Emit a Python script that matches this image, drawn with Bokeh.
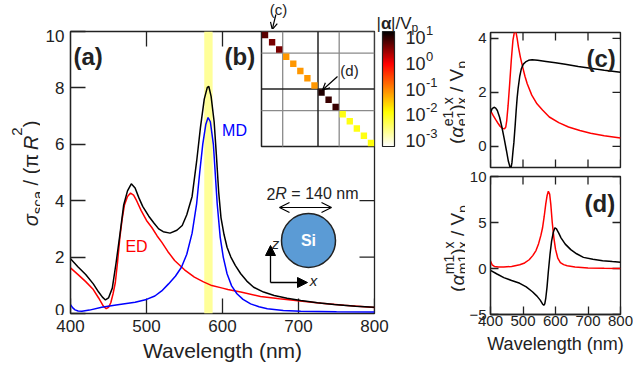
import numpy as np
from bokeh.plotting import figure
from bokeh.layouts import row, column
from bokeh.models import (Range1d, FixedTicker, Label, Arrow, OpenHead, NormalHead,
                          LinearColorMapper, BoxAnnotation, ColumnDataSource)
from bokeh.embed import file_html
from bokeh.resources import INLINE

FONT = "Liberation Sans"
INK = "#222222"

# ---------------- data: panel (a) scattering cross sections ----------------
wl_total = [400, 410, 420, 430, 437, 442, 446, 450, 455, 460, 465, 470, 475, 480, 485, 490,
            495, 503, 510, 516, 522, 531, 540, 547, 553, 560, 566, 571, 576, 580, 582, 585,
            589, 592, 595, 598, 602, 606, 611, 617, 624, 632, 641, 654, 668, 685, 703, 725,
            747, 775, 800]
sca_total = [1.94, 1.65, 1.38, 1.05, 0.76, 0.58, 0.48, 0.55, 0.9, 1.8, 2.8, 3.85, 4.35, 4.6, 4.45, 4.1,
             3.8, 3.45, 3.2, 3.0, 2.9, 2.85, 2.95, 3.12, 3.5, 4.15, 5.4, 6.6, 7.6, 8.02, 8.05, 7.7,
             6.8, 5.6, 4.3, 3.4, 2.8, 2.35, 2.0, 1.7, 1.41, 1.15, 0.93, 0.76, 0.64, 0.54, 0.46, 0.38,
             0.32, 0.26, 0.22]
wl_md = [400, 403, 406, 410, 415, 425, 441, 460, 485, 500, 511, 520, 529, 538, 546, 553, 560,
         566, 570, 574, 578, 581, 584, 588, 593, 597, 601, 606, 612, 619, 627, 637, 648, 659,
         680, 703, 750, 800]
sca_md = [0.31, 0.2, 0.13, 0.09, 0.08, 0.12, 0.22, 0.3, 0.4, 0.5, 0.62, 0.8, 1.05, 1.32, 1.64, 2.1, 2.85,
          3.9, 5.0, 6.0, 6.7, 6.95, 6.8, 6.0, 3.9, 2.7, 2.0, 1.41, 0.98, 0.70, 0.5, 0.34, 0.24, 0.17,
          0.11, 0.08, 0.06, 0.05]
wl_ed = [400, 410, 420, 430, 437, 443, 447, 450, 453, 456, 459, 462, 465, 468, 471, 475, 479, 483,
         487, 493, 500, 507, 514, 520, 528, 537, 550, 563, 575, 586, 600, 607, 624, 650, 675, 702,
         730, 760, 800]
sca_ed = [1.62, 1.38, 1.13, 0.85, 0.55, 0.27, 0.17, 0.22, 0.38, 0.7, 1.1, 1.85, 2.7, 3.35, 3.85, 4.15,
          4.27, 4.2, 4.0, 3.65, 3.3, 3.05, 2.75, 2.53, 2.2, 1.88, 1.55, 1.29, 1.12, 0.99, 0.9, 0.85,
          0.76, 0.6, 0.52, 0.44, 0.36, 0.29, 0.21]
band_lo, band_hi = 576, 587

# ---------------- data: panel (c) electric dipole polarizability ----------------
wl_c_re = [400, 405, 411, 416, 421, 428, 435, 442, 449, 455, 460, 463, 466, 469, 472, 476, 479,
           482, 485, 490, 495, 501, 508, 517, 528, 545, 571, 600, 630, 670, 708, 750, 800]
c_re = [1.25, 1.4, 1.45, 1.42, 1.33, 1.08, 0.72, 0.3, -0.15, -0.55, -0.76, -0.8, -0.6, -0.2, 0.15,
        0.8, 1.33, 1.8, 2.15, 2.6, 2.88, 3.05, 3.13, 3.19, 3.21, 3.19, 3.15, 3.1, 3.04, 2.96, 2.9,
        2.82, 2.75]
wl_c_im = [400, 408, 416, 423, 430, 437, 443, 447, 450, 454, 459, 464, 469, 473, 476, 479, 482,
           486, 492, 499, 506, 513, 527, 543, 560, 581, 610, 640, 675, 708, 750, 800]
c_im = [1.33, 1.15, 0.99, 0.86, 0.74, 0.67, 0.65, 0.72, 0.96, 1.5, 2.32, 3.2, 3.93, 4.2, 4.3, 4.2,
        4.0, 3.68, 3.3, 2.94, 2.6, 2.32, 1.9, 1.58, 1.35, 1.09, 0.88, 0.72, 0.59, 0.49, 0.4, 0.31]

# ---------------- data: panel (d) magnetic dipole polarizability ----------------
wl_d_re = [400, 420, 441, 465, 490, 510, 529, 543, 553, 560, 564, 567, 570, 574, 578, 583, 588,
           593, 598, 603, 610, 617, 630, 647, 665, 686, 715, 745, 775, 800]
d_re = [-0.2, -0.6, -0.99, -1.3, -1.61, -2.0, -2.53, -3.0, -3.44, -3.85, -4.0, -3.85, -3.26, -2.0,
        -0.33, 1.5, 2.97, 3.9, 4.43, 4.3, 3.85, 3.33, 2.65, 2.05, 1.6, 1.21, 1.0, 0.85, 0.75, 0.69]
wl_d_im = [400, 405, 412, 425, 441, 465, 490, 505, 519, 530, 540, 548, 555, 560, 565, 570, 574,
           578, 582, 585.5, 590, 595, 600, 607, 615, 625, 636, 660, 700, 750, 800]
d_im = [0.8, 0.4, 0.22, 0.17, 0.15, 0.22, 0.4, 0.6, 0.95, 1.4, 1.95, 2.7, 3.6, 4.4, 5.6, 7.0, 7.9,
        8.39, 8.1, 7.0, 5.0, 3.33, 2.1, 1.13, 0.65, 0.42, 0.3, 0.16, 0.06, 0.02, 0.0]

# ---------------- data: panel (b) polarizability matrix (diagonal, log10 |alpha|/Vp) -------
diag_log10 = [0.81, 0.65, 0.65, -1.14, -1.14, -1.14, -1.14, -1.14,
              1.09, 0.96, 0.96, -2.0, -2.0, -2.0, -2.0, -1.95]
n_modes = 16
block_gray = [3, 11]
block_black = [8]
cb_ticks = [1, 0, -1, -2, -3]
cb_low, cb_high = -3.25, 1.25

x_ticks = [400, 500, 600, 700, 800]
a_yticks = [0, 2, 4, 6, 8, 10]
a_top_ticks = [500, 600]
a_right_ticks = [2, 4]
c_yticks = [0, 2, 4]
d_yticks = [-5, 0, 5, 10]

# ---------------- helpers ----------------
CW = {c: .556 for c in "0123456789abdeghnopqu"}
CW.update({'c': .5, 's': .5, 'x': .5, 'z': .5, 'v': .5, 'y': .5, 'k': .5, 'm': .833, 'w': .722,
           'i': .222, 'l': .222, 'j': .222, 'f': .278, 't': .278, 'r': .333,
           'R': .722, 'V': .667, 'S': .667, 'E': .667, 'D': .722, 'M': .833, 'W': .944,
           '(': .333, ')': .333, '/': .278, ' ': .278, '=': .584, '|': .26, '-': .333,
           'σ': .6, 'π': .6, 'α': .6})


def tw(s, size):
    return sum(CW.get(ch, .556) for ch in s) * size


def lab(p, x, y, text, size, color=INK, style="normal", align="left", baseline="alphabetic",
        angle=0.0, xr="px", yr="py", y_offset=0):
    p.add_layout(Label(x=x, y=y, x_range_name=xr, y_range_name=yr, text=text, angle=angle,
                       text_font=FONT, text_font_size=f"{size}px", text_font_style=style,
                       text_color=color, text_align=align, text_baseline=baseline,
                       y_offset=y_offset))


def vlabel(p, xb, yc, groups, color=INK):
    """Rotated (bottom-to-top) label assembled from pieces with sub/superscripts."""
    total = sum(max(tw(t, s) for t, s, _, _ in g) for g in groups)
    y = yc + total / 2
    for g in groups:
        for t, s, sh, st in g:
            lead = len(t) - len(t.lstrip(" "))
            lab(p, xb + sh, y - tw(" " * lead, s), t.strip(" "), s, color=color, style=st,
                angle=np.pi / 2)
        y -= max(tw(t, s) for t, s, _, _ in g)


def hlabel(p, x, yb, pieces, align="left", color=INK):
    total = sum(tw(t, s) for t, s, _, _ in pieces)
    if align == "center":
        x -= total / 2
    for t, s, sh, st in pieces:
        lead = len(t) - len(t.lstrip(" "))
        lab(p, x + tw(" " * lead, s), yb + sh, t.strip(" "), s, color=color, style=st)
        x += tw(t, s)


def palette_hot_r(n=256):
    stops = [(0.0, (255, 255, 255)), (0.3, (255, 255, 0)), (0.72, (255, 0, 0)), (1.0, (0, 0, 0))]
    pal = []
    for i in range(n):
        t = i / (n - 1)
        for (t0, c0), (t1, c1) in zip(stops[:-1], stops[1:]):
            if t0 <= t <= t1:
                f = (t - t0) / (t1 - t0)
                c = tuple(int(round(a + (b - a) * f)) for a, b in zip(c0, c1))
                break
        pal.append("#%02x%02x%02x" % c)
    return pal


cmap = LinearColorMapper(palette=palette_hot_r(), low=cb_low, high=cb_high)


def blank(x0, x1, y0, y1):
    """A figure whose frame is the whole canvas, with ranges in page pixels."""
    p = figure(width=x1 - x0, height=y1 - y0, x_range=Range1d(x0, x1), y_range=Range1d(y1, y0),
               min_border=0, min_border_left=0, min_border_right=0, min_border_top=0,
               min_border_bottom=0, toolbar_location=None, output_backend="svg",
               x_axis_location=None, y_axis_location=None)
    p.extra_x_ranges = {"px": Range1d(x0, x1)}
    p.extra_y_ranges = {"py": Range1d(y1, y0)}
    p.grid.visible = False
    p.outline_line_color = None
    p.background_fill_color = "white"
    p.border_fill_color = "white"
    return p


def style(p, tick_len, xlab_px, ylab_px, xstand, ystand):
    p.grid.visible = False
    p.outline_line_color = INK
    p.outline_line_width = 1.3
    p.background_fill_color = "white"
    p.border_fill_color = "white"
    for ax in list(p.below) + list(p.left):
        ax.major_tick_in = tick_len
        ax.major_tick_out = 0
        ax.minor_tick_line_color = None
        ax.axis_line_color = INK
        ax.axis_line_width = 1.3
        ax.major_tick_line_color = INK
        ax.major_tick_line_width = 1.3
        ax.major_label_text_font = FONT
        ax.major_label_text_color = INK
        ax.axis_label_text_font = FONT
        ax.axis_label_text_font_style = "normal"
        ax.axis_label_text_color = INK
    if p.below:
        p.below[0].major_label_text_font_size = f"{xlab_px}px"
        p.below[0].major_label_standoff = xstand
    if p.left:
        p.left[0].major_label_text_font_size = f"{ylab_px}px"
        p.left[0].major_label_standoff = ystand


def side_ticks(p, length, top=None, right=None, bottom=None):
    kw = dict(length=length, length_units="screen", line_color=INK, line_width=1.3)
    if top:
        ticks, y0 = top
        p.ray(x=ticks, y=[y0] * len(ticks), angle=-np.pi / 2, **kw)
    if right:
        ticks, x0 = right
        p.ray(x=[x0] * len(ticks), y=ticks, angle=np.pi, **kw)
    if bottom:
        ticks, y0 = bottom
        p.ray(x=ticks, y=[y0] * len(ticks), angle=np.pi / 2, **kw)


TOTAL_H = 363

# ---------------- panel (a) ----------------
A_L, A_R, A_T, A_B = 70, 374, 31, 313          # frame edges on the page
M_L, M_R, M_T, M_B = 261, 374, 31, 146         # inset matrix edges
cw = (M_R - M_L) / n_modes
ch = (M_B - M_T) / n_modes

p_a = figure(frame_width=A_R - A_L, frame_height=A_B - A_T, x_range=Range1d(400, 800),
             y_range=Range1d(0, 10), min_border_left=30, min_border_right=2, min_border_top=2,
             min_border_bottom=2, toolbar_location=None, output_backend="svg",
             x_axis_location=None)
p_a.extra_x_ranges = {"px": Range1d(A_L, A_R), "mx": Range1d(-(M_L - A_L) / cw, n_modes)}
p_a.extra_y_ranges = {"py": Range1d(A_B, A_T), "my": Range1d((A_B - A_T) / ch, 0)}
p_a.yaxis.ticker = FixedTicker(ticks=a_yticks)
style(p_a, 15, 17, 17, 6, 6)
side_ticks(p_a, 15, top=(a_top_ticks, 10), right=(a_right_ticks, 800), bottom=(x_ticks, 0))

p_a.add_layout(BoxAnnotation(left=band_lo, right=band_hi, fill_color="#ffff99", fill_alpha=1.0,
                             line_color=None, level="underlay"))
p_a.line(wl_ed, sca_ed, line_color="#ff0000", line_width=1.5)
p_a.line(wl_md, sca_md, line_color="#0000ff", line_width=1.5)
p_a.line(wl_total, sca_total, line_color="#000000", line_width=1.5)

# inset (b)
p_a.quad(left=0, right=n_modes, top=0, bottom=n_modes, x_range_name="mx", y_range_name="my",
         fill_color="white", line_color=INK, line_width=1.5)
for edges, col, lw in ((block_gray, "#8a8a8a", 1.3), (block_black, INK, 1.5)):
    p_a.segment(x0=edges, y0=[0] * len(edges), x1=edges, y1=[n_modes] * len(edges),
                x_range_name="mx", y_range_name="my", line_color=col, line_width=lw)
    p_a.segment(x0=[0] * len(edges), y0=edges, x1=[n_modes] * len(edges), y1=edges,
                x_range_name="mx", y_range_name="my", line_color=col, line_width=lw)
idx = np.arange(n_modes) + 0.5
src = ColumnDataSource(dict(x=idx, y=idx, v=diag_log10))
p_a.rect(x="x", y="y", width=0.9, height=0.9, source=src, x_range_name="mx", y_range_name="my",
         fill_color={"field": "v", "transform": cmap}, line_color=None)

lab(p_a, 349, 70, "(d)", 15, align="center")
p_a.add_layout(Arrow(x_start=337, y_start=76, x_end=322, y_end=89.5, x_range_name="px",
                     y_range_name="py", line_color="black", line_width=1.2,
                     end=OpenHead(size=7, line_width=1.2, line_color="black")))

# sphere sketch
hlabel(p_a, 312, 193, [("2", 16, 0, "normal"), ("R", 16, 0, "italic"), (" = 140 nm", 16, 0, "normal")],
       align="center")
p_a.add_layout(Arrow(x_start=279, y_start=207, x_end=331, y_end=207, x_range_name="px",
                     y_range_name="py", line_color="black", line_width=1.2,
                     start=OpenHead(size=10, line_width=1.2, line_color="black"),
                     end=OpenHead(size=10, line_width=1.2, line_color="black")))
p_a.scatter(x=[308], y=[240], size=54, marker="circle", fill_color="#5b9bd5", line_color=INK,
            line_width=1.5, x_range_name="px", y_range_name="py")
lab(p_a, 308, 240, "Si", 16, color="white", style="bold", align="center", baseline="middle")
p_a.add_layout(Arrow(x_start=270, y_start=282, x_end=270, y_end=245, x_range_name="px",
                     y_range_name="py", line_color="black", line_width=1.3,
                     end=NormalHead(size=10, fill_color="black", line_color="black")))
p_a.add_layout(Arrow(x_start=270, y_start=282, x_end=307, y_end=282, x_range_name="px",
                     y_range_name="py", line_color="black", line_width=1.3,
                     end=NormalHead(size=10, fill_color="black", line_color="black")))
lab(p_a, 275, 243, "z", 15, style="italic", align="center")
lab(p_a, 313, 280, "x", 15, style="italic", align="center")

lab(p_a, 234, 130, "MD", 16, color="#0000ff", align="center", baseline="middle")
lab(p_a, 136, 246, "ED", 16, color="#ff0000", align="center", baseline="middle")
lab(p_a, 73, 56, "(a)", 24, style="bold")
lab(p_a, 224, 56, "(b)", 24, style="bold")

# x axis of (a), in its own strip so that the last tick label has room
AX_H = TOTAL_H - 29 - (A_B - A_T + 4)
p_ax_a = figure(frame_width=A_R - A_L, frame_height=1, x_range=p_a.x_range, y_range=Range1d(0, 1),
                min_border_left=30, min_border_right=92, min_border_top=0,
                min_border_bottom=AX_H - 1, toolbar_location=None, output_backend="svg",
                y_axis_location=None)
p_ax_a.xaxis.ticker = FixedTicker(ticks=x_ticks)
p_ax_a.xaxis.axis_label = "Wavelength (nm)"
style(p_ax_a, 0, 17, 17, 3, 0)
p_ax_a.outline_line_color = None
p_ax_a.xaxis.axis_line_color = None
p_ax_a.xaxis.major_tick_line_color = None
p_ax_a.xaxis.axis_label_text_font_size = "21px"
p_ax_a.xaxis.axis_label_standoff = 4

# strip above (a): pointer to element (c)
p_strip = blank(40, 376, 0, 29)
lab(p_strip, 270, 0, "(c)", 15, align="center", baseline="top")
p_strip.add_layout(Arrow(x_start=267, y_start=14, x_end=263, y_end=29, x_range_name="px",
                         y_range_name="py", line_color="black", line_width=1.2,
                         end=OpenHead(size=7, line_width=1.2, line_color="black")))

# y label of (a)
p_yla = blank(0, 40, 0, TOTAL_H)
vlabel(p_yla, 30.5, 173, [[("σ", 20, 0, "italic")], [("sca", 15, 6, "normal")],
                          [(" / (", 20, 0, "normal")], [("π ", 20, 0, "normal")],
                          [("R", 20, 0, "italic")], [("2", 15, -14, "normal")],
                          [(")", 20, 0, "normal")]])

# ---------------- middle strip: colour bar and y labels of (c), (d) ----------------
MID_L, MID_R, MID_B = 376, 465, 315
BAR_L, BAR_R, BAR_T, BAR_B = 382, 394, 31, 146
ppd = (BAR_B - BAR_T) / (cb_high - cb_low)
p_mid = blank(MID_L, MID_R, 0, MID_B)
p_mid.extra_y_ranges["val"] = Range1d(cb_high - (MID_B - BAR_T) / ppd, cb_high + BAR_T / ppd)
grad = np.linspace(cb_low, cb_high, 256).reshape(-1, 1)
p_mid.image(image=[grad], x=BAR_L, y=cb_low, dw=BAR_R - BAR_L, dh=cb_high - cb_low,
            color_mapper=cmap, y_range_name="val")
p_mid.quad(left=BAR_L, right=BAR_R, top=BAR_T, bottom=BAR_B, fill_color=None, line_color=INK,
           line_width=1.2)
for k in cb_ticks:
    lab(p_mid, 405, k, "10", 18, baseline="middle", yr="val")
    lab(p_mid, 405 + tw("10", 18) + 0.5, k, str(k), 13, baseline="middle", yr="val", y_offset=7)
hlabel(p_mid, 376, 23, [("|", 17, 0, "normal"), ("α", 17, 0, "bold"), ("|/V", 17, 0, "normal"),
                        ("p", 12, 4, "normal")])
vlabel(p_mid, 456, 102, [[("(", 19, 0, "normal")], [("α", 19, 0, "italic")],
                         [("e1", 14, -9, "normal"), ("e1", 14, 5, "normal")],
                         [(")", 19, 0, "normal")],
                         [("x", 14, -9, "normal"), ("x", 14, 5, "normal")],
                         [(" / V", 19, 0, "normal")], [("p", 14, 5, "normal")]])
vlabel(p_mid, 457, 248, [[("(", 19, 0, "normal")], [("α", 19, 0, "italic")],
                         [("m1", 14, -9, "normal"), ("m1", 14, 5, "normal")],
                         [(")", 19, 0, "normal")],
                         [("x", 14, -9, "normal"), ("x", 14, 5, "normal")],
                         [(" / V", 19, 0, "normal")], [("p", 14, 5, "normal")]])

# ---------------- panels (c) and (d) ----------------
RIGHT_EDGE = 629
P_L, P_R = 486, 616
C_T, C_B = 32, 167
D_T, D_B = 176, 314

p_c = figure(frame_width=P_R - P_L, frame_height=C_B - C_T, x_range=Range1d(400, 800),
             y_range=Range1d(-0.78, 4.22), min_border_left=P_L - MID_R,
             min_border_right=RIGHT_EDGE - P_R, min_border_top=C_T, min_border_bottom=4,
             toolbar_location=None, output_backend="svg", x_axis_location=None)
p_c.extra_x_ranges = {"px": Range1d(P_L, P_R)}
p_c.extra_y_ranges = {"py": Range1d(C_B, C_T)}
p_c.yaxis.ticker = FixedTicker(ticks=c_yticks)
style(p_c, 8, 0, 15, 0, 4)
side_ticks(p_c, 8, top=(x_ticks, 4.22), right=(c_yticks, 800), bottom=(x_ticks, -0.78))
p_c.line(wl_c_im, c_im, line_color="#ff0000", line_width=1.5)
p_c.line(wl_c_re, c_re, line_color="#000000", line_width=1.5)
lab(p_c, P_R - 34, 58, "(c)", 24, style="bold")

p_d = figure(frame_width=P_R - P_L, frame_height=D_B - D_T, x_range=Range1d(400, 800),
             y_range=Range1d(-5, 10), min_border_left=P_L - MID_R,
             min_border_right=RIGHT_EDGE - P_R, min_border_top=D_T - (C_B + 4),
             min_border_bottom=TOTAL_H - D_B, toolbar_location=None, output_backend="svg")
p_d.extra_x_ranges = {"px": Range1d(P_L, P_R)}
p_d.extra_y_ranges = {"py": Range1d(D_B, D_T)}
p_d.xaxis.ticker = FixedTicker(ticks=x_ticks)
p_d.yaxis.ticker = FixedTicker(ticks=d_yticks)
p_d.xaxis.axis_label = "Wavelength (nm)"
p_d.xaxis.axis_label_text_font_size = "18px"
p_d.xaxis.axis_label_standoff = 5
style(p_d, 8, 15, 15, 1, 4)
side_ticks(p_d, 8, top=(x_ticks, 10), right=(d_yticks, 800))
p_d.line(wl_d_im, d_im, line_color="#ff0000", line_width=1.5)
p_d.line(wl_d_re, d_re, line_color="#000000", line_width=1.5)
lab(p_d, P_R - 36, 203, "(d)", 24, style="bold")

layout = row(p_yla,
             column(row(column(p_strip, p_a), p_mid), p_ax_a),
             column(p_c, p_d))
open("out.html", "w").write(file_html(layout, INLINE))
